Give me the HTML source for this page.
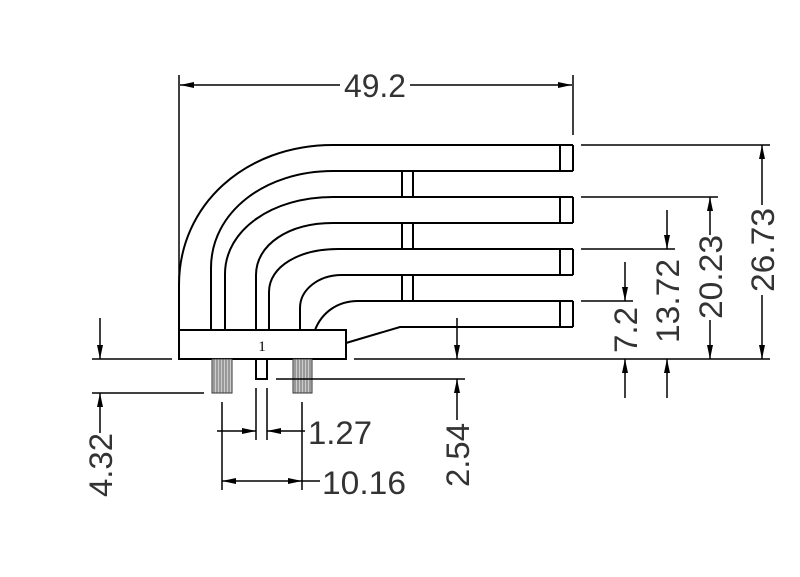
<!DOCTYPE html>
<html><head><meta charset="utf-8"><style>html,body{margin:0;padding:0;background:#fff}svg{display:block}</style></head><body>
<svg width="800" height="577" viewBox="0 0 800 577" xmlns="http://www.w3.org/2000/svg">
<defs>
<pattern id="h" width="3" height="4" patternUnits="userSpaceOnUse"><rect width="3" height="4" fill="#ccc"/><line x1="1" y1="0" x2="1" y2="4" stroke="#666" stroke-width="1"/></pattern>
<marker id="a" viewBox="0 0 14 6" refX="14" refY="3" markerWidth="14" markerHeight="6" markerUnits="userSpaceOnUse" orient="auto"><path d="M0,0 L14,3 L0,6 z" fill="#000"/></marker>
</defs>
<g fill="none" stroke="#000" stroke-width="2">
<path d="M179,330 V285 C179,205 245,145 333,145 H573"/>
<path d="M211,330 V268 C211,212 265,171 333,171 H573"/>
<path d="M225,330 V274 C225,230 272,197 333,197 H573"/>
<path d="M256,330 V275 C256,245 288,223 333,223 H573"/>
<path d="M269,330 V292 C269,266 300,249 338,249 H573"/>
<path d="M300,330 V308 C300,290 318,275 342,275 H573"/>
<path d="M315,330 C322,312 338,301 358,301 H573"/>
<path d="M346,343 L400,327 H573"/>
<path d="M560,145 V171 M573,145 V171 M560,197 V223 M573,197 V223 M560,249 V275 M573,249 V275 M560,301 V327 M573,301 V327"/>
<path d="M402,171 V197 M413,171 V197 M402,223 V249 M413,223 V249 M402,275 V301 M413,275 V301"/>
<rect x="179" y="330" width="167" height="29" fill="#fff"/>
<rect x="256" y="359" width="11" height="20"/>
</g>
<rect x="212" y="359" width="20" height="34" fill="url(#h)" stroke="#333" stroke-width="1"/>
<rect x="293" y="359" width="19" height="34" fill="url(#h)" stroke="#333" stroke-width="1"/>
<text x="262" y="351" font-family="Liberation Serif,serif" font-size="15" text-anchor="middle">1</text>
<g fill="none" stroke="#000" stroke-width="1.5">
<path d="M179,75 V330 M573,75 V135"/>
<path d="M581,145 H770 M581,197 H718 M581,249 H675 M581,301 H633"/>
<path d="M354,359 H770 M276,379 H465"/>
<path d="M92,359 H172 M92,393 H204"/>
<path d="M222,402 V490 M302,402 V490 M256,388 V440 M267,388 V440"/>
<path d="M340,85 H180" marker-end="url(#a)"/>
<path d="M410,85 H572" marker-end="url(#a)"/>
<path d="M100,318 V359" marker-end="url(#a)"/>
<path d="M100,433 V393" marker-end="url(#a)"/>
<path d="M457,318 V359" marker-end="url(#a)"/>
<path d="M457,420 V379" marker-end="url(#a)"/>
<path d="M217,431 H256" marker-end="url(#a)"/>
<path d="M305,431 H267" marker-end="url(#a)"/>
<path d="M262,481 H222" marker-end="url(#a)"/>
<path d="M262,481 H302" marker-end="url(#a)"/>
<path d="M302,481 H320"/>
<path d="M625,262 V301" marker-end="url(#a)"/>
<path d="M625,398 V359" marker-end="url(#a)"/>
<path d="M667,210 V249" marker-end="url(#a)"/>
<path d="M667,398 V359" marker-end="url(#a)"/>
<path d="M710,235 V197" marker-end="url(#a)"/>
<path d="M710,320 V359" marker-end="url(#a)"/>
<path d="M762,205 V145" marker-end="url(#a)"/>
<path d="M762,295 V359" marker-end="url(#a)"/>
</g>
<g font-family="Liberation Sans,sans-serif" font-size="32" fill="#333" lengthAdjust="spacingAndGlyphs">
<text x="375" y="97" text-anchor="middle" textLength="62" lengthAdjust="spacingAndGlyphs">49.2</text>
<text x="308" y="444" textLength="64" lengthAdjust="spacingAndGlyphs">1.27</text>
<text x="322" y="494" textLength="84" lengthAdjust="spacingAndGlyphs">10.16</text>
<text transform="translate(112,465) rotate(-90)" text-anchor="middle" textLength="64" lengthAdjust="spacingAndGlyphs">4.32</text>
<text transform="translate(469,455) rotate(-90)" text-anchor="middle" textLength="64" lengthAdjust="spacingAndGlyphs">2.54</text>
<text transform="translate(637,330) rotate(-90)" text-anchor="middle" textLength="46" lengthAdjust="spacingAndGlyphs">7.2</text>
<text transform="translate(679,301) rotate(-90)" text-anchor="middle" textLength="84" lengthAdjust="spacingAndGlyphs">13.72</text>
<text transform="translate(722,277) rotate(-90)" text-anchor="middle" textLength="84" lengthAdjust="spacingAndGlyphs">20.23</text>
<text transform="translate(774,250) rotate(-90)" text-anchor="middle" textLength="84" lengthAdjust="spacingAndGlyphs">26.73</text>
</g>
</svg>
</body></html>
